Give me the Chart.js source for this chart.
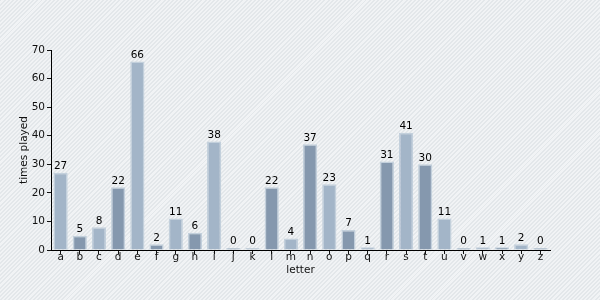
<!DOCTYPE html>
<html>
<head>
<meta charset="utf-8">
<script src="https://cdn.jsdelivr.net/npm/chart.js@4"></script>
<style>
html,body{margin:0;padding:0;}
body{width:600px;height:300px;overflow:hidden;
background:repeating-linear-gradient(135deg,#e3e7ea 0px,#e3e7ea 1.4px,#f1f3f5 1.4px,#f1f3f5 2.9px);}
#wrap{width:600px;height:300px;position:relative;}
canvas{display:block;}
</style>
</head>
<body>
<div id="wrap"><canvas id="c" width="600" height="300"></canvas></div>
<script>
const letters = ["a","b","c","d","e","f","g","h","i","j","k","l","m","n","o","p","q","r","s","t","u","v","w","x","y","z"];
const timesPlayed = [27,5,8,22,66,2,11,6,38,0,0,22,4,37,23,7,1,31,41,30,11,0,1,1,2,0];
const yTicks = [0,10,20,30,40,50,60,70];

const lightFill = "#a3b5c8";
const darkFill = "#8598ae";
const barColors = letters.map((_, i) => i % 2 === 0 ? lightFill : darkFill);
const FONT = { family: "DejaVu Sans", size: 10.5 };

const valueLabels = {
  id: "valueLabels",
  afterDatasetsDraw(chart) {
    const ctx = chart.ctx;
    const meta = chart.getDatasetMeta(0);
    ctx.save();
    ctx.font = "10.5px 'DejaVu Sans'";
    ctx.fillStyle = "#000";
    ctx.textAlign = "center";
    ctx.textBaseline = "bottom";
    meta.data.forEach((bar, i) => {
      ctx.fillText(String(timesPlayed[i]), bar.x, bar.y - 1);
    });
    ctx.restore();
  }
};

new Chart(document.getElementById("c"), {
  type: "bar",
  data: {
    labels: letters,
    datasets: [{
      data: timesPlayed,
      backgroundColor: barColors,
      borderColor: "#c3d0dc",
      borderWidth: 1.5,
      barPercentage: 0.74,
      categoryPercentage: 1.0,
      minBarLength: 2
    }]
  },
  options: {
    responsive: false,
    animation: false,
    devicePixelRatio: 1,
    layout: { padding: { left: 0, top: 50, right: 50, bottom: 23 } },
    plugins: { legend: { display: false }, tooltip: { enabled: false } },
    scales: {
      x: {
        grid: { display: true, drawOnChartArea: false, offset: false, tickLength: 4, color: "#111", tickColor: "#111" },
        border: { display: true, color: "#000", width: 1 },
        ticks: { font: FONT, color: "#111", padding: -3, maxRotation: 0, autoSkip: false },
        title: { display: true, text: "letter", font: FONT, color: "#111", padding: { top: 0, bottom: 0 } },
        afterFit(scale) { scale.height = 27; }
      },
      y: {
        min: 0, max: 70,
        afterBuildTicks(scale) { scale.ticks = yTicks.map(v => ({ value: v })); },
        grid: { display: true, drawOnChartArea: false, tickLength: 4, color: "#111", tickColor: "#111" },
        border: { display: true, color: "#000", width: 1 },
        ticks: { font: FONT, color: "#111", padding: 2 },
        title: { display: true, text: "times played", font: FONT, color: "#111", padding: { top: 18, bottom: 0 } },
        afterFit(scale) { scale.width = 51; }
      }
    }
  },
  plugins: [valueLabels]
});
</script>
</body>
</html>
